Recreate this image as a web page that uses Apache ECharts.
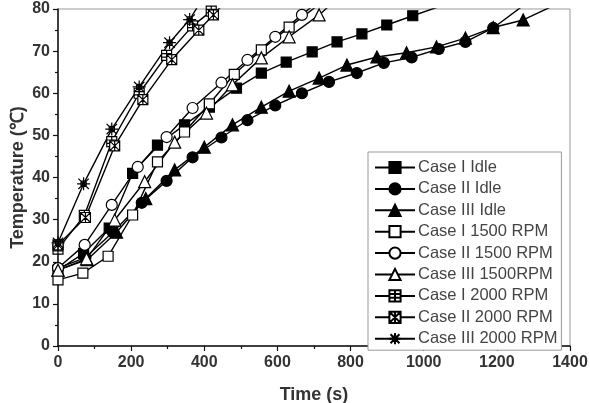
<!DOCTYPE html>
<html>
<head>
<meta charset="utf-8">
<script src="https://cdn.jsdelivr.net/npm/echarts@6/dist/echarts.min.js"></script>
<style>
  html, body { margin: 0; padding: 0; background: #fff; }
  #chart { width: 590px; height: 403px; }
</style>
</head>
<body>
<div id="chart"></div>
<script>
// [time (s), temperature (C)]
const caseIIdle = [[0, 18], [70, 22], [140, 28], [204, 41], [272, 47.7], [346, 52.5], [414, 56.7], [488, 61.2], [556, 64.8], [624, 67.4], [695, 69.8], [763, 72.2], [831, 74.1], [899, 76.2], [970, 78.4], [1040, 80.5]];
const caseIIIdle = [[0, 18.5], [75, 21], [150, 27], [229, 34], [297, 39.2], [368, 44.8], [447, 49.5], [518, 53.6], [594, 57.1], [667, 60], [741, 62.7], [817, 64.8], [891, 67.2], [967, 68.5], [1041, 70.5], [1114, 72.2], [1190, 75.5], [1275, 81]];
const caseIIIIdle = [[0, 18], [80, 20.5], [160, 27], [240, 35], [319, 41.8], [400, 47.2], [477, 52.5], [556, 56.7], [632, 60.5], [714, 63.6], [790, 66.7], [872, 68.6], [953, 69.6], [1035, 71], [1114, 73.1], [1190, 75.6], [1272, 77.4], [1360, 81]];
const caseI1500 = [[0, 15.7], [68, 17.3], [137, 21.3], [204, 31.1], [272, 43.7], [346, 50.8], [414, 57.5], [482, 64.5], [556, 70.3], [632, 75.7], [705, 80.5]];
const caseII1500 = [[0, 18.5], [73, 24], [147, 33.5], [218, 42.5], [297, 49.6], [368, 56.5], [447, 62.5], [518, 67.9], [594, 73.4], [667, 78.6], [700, 81]];
const caseIII1500 = [[0, 18], [78, 20.7], [155, 29.9], [237, 39], [319, 48.4], [406, 55.3], [477, 62], [556, 68.4], [632, 73.4], [714, 78.6], [745, 81]];
const caseI2000 = [[0, 23], [72, 31], [147, 48.5], [222, 60], [297, 69], [368, 76], [419, 79.5], [440, 81]];
const caseII2000 = [[0, 24], [75, 30.5], [155, 47.5], [232, 58.5], [311, 68], [385, 75], [425, 78.6], [450, 81]];
const caseIII2000 = [[0, 24.5], [70, 38.5], [147, 51.5], [222, 61.5], [305, 72], [360, 77.5], [385, 81]];

const seriesNames = ['Case I Idle', 'Case II Idle', 'Case III Idle', 'Case I 1500 RPM', 'Case II 1500 RPM', 'Case III 1500RPM', 'Case I 2000 RPM', 'Case II 2000 RPM', 'Case III 2000 RPM'];
const seriesData = [caseIIdle, caseIIIdle, caseIIIIdle, caseI1500, caseII1500, caseIII1500, caseI2000, caseII2000, caseIII2000];

// marker look per series
const markers = [
  { symbol: 'rect', size: 10, fill: '#000' },
  { symbol: 'circle', size: 11, fill: '#000' },
  { symbol: 'triangle', size: 12, fill: '#000' },
  { symbol: 'rect', size: 10, fill: '#fff' },
  { symbol: 'circle', size: 11, fill: '#fff' },
  { symbol: 'triangle', size: 12, fill: '#fff' },
  { symbol: 'path://M0,0H10V10H0ZM0,3.3H10M0,6.7H10M5,0V10', size: 10, fill: '#fff' },
  { symbol: 'path://M0,0H10V10H0ZM0,0L10,10M10,0L0,10M5,0V10', size: 10, fill: '#fff' },
  { symbol: 'path://M0,5H10M5,0V10M1,1L9,9M9,1L1,9M3,3H7V7H3Z', size: 13, fill: '#fff' }
];

let myChart = echarts.init(document.getElementById('chart'));

const axisText = { color: '#333', fontFamily: 'Liberation Sans, Arial, sans-serif', fontWeight: 'bold', fontSize: 16 };

myChart.setOption({
  animation: false,
  grid: { left: 58, right: 20, top: 9, bottom: 57, outerBoundsMode: 'none', show: true, borderColor: '#999', borderWidth: 1 },
  legend: {
    orient: 'vertical',
    left: 368,
    top: 152,
    padding: [7, 4, 3, 6],
    itemWidth: 40,
    itemHeight: 14,
    itemGap: 4.4,
    backgroundColor: '#fff',
    borderColor: '#999',
    borderWidth: 1,
    textStyle: { color: '#444', fontFamily: 'Liberation Sans, Arial, sans-serif', fontSize: 16.5, lineHeight: 16, padding: [0, 0, 0, -2] },
    data: seriesNames
  },
  xAxis: {
    type: 'value',
    min: 0,
    max: 1400,
    interval: 200,
    name: 'Time (s)',
    nameLocation: 'middle',
    nameGap: 40,
    nameMoveOverlap: false,
    nameTextStyle: { ...axisText, fontSize: 18 },
    axisLine: { lineStyle: { color: '#111', width: 1.5 } },
    axisTick: { show: true, inside: false, length: 5, lineStyle: { color: '#111', width: 1.2 } },
    minorTick: { show: true, splitNumber: 2, length: 3, lineStyle: { color: '#111', width: 1.2 } },
    axisLabel: { ...axisText, margin: 9, formatter: (v) => String(v) },
    splitLine: { show: false }
  },
  yAxis: {
    type: 'value',
    min: 0,
    max: 80,
    interval: 10,
    name: 'Temperature (℃)',
    nameLocation: 'middle',
    nameGap: 31,
    nameMoveOverlap: false,
    nameTextStyle: { ...axisText, fontSize: 18 },
    axisLine: { show: true, lineStyle: { color: '#111', width: 1.5 } },
    axisTick: { show: true, inside: false, length: 5, lineStyle: { color: '#111', width: 1.2 } },
    minorTick: { show: true, splitNumber: 2, length: 3, lineStyle: { color: '#111', width: 1.2 } },
    axisLabel: { ...axisText, margin: 8 },
    splitLine: { show: false }
  },
  series: seriesData.map((d, i) => ({
    name: seriesNames[i],
    type: 'line',
    data: d,
    symbol: markers[i].symbol,
    symbolSize: markers[i].size,
    showAllSymbol: true,
    clip: true,
    lineStyle: { color: '#000', width: 1.4 },
    itemStyle: { color: markers[i].fill, borderColor: '#000', borderWidth: 1.2 },
    emphasis: { disabled: true }
  }))
});
</script>
</body>
</html>
